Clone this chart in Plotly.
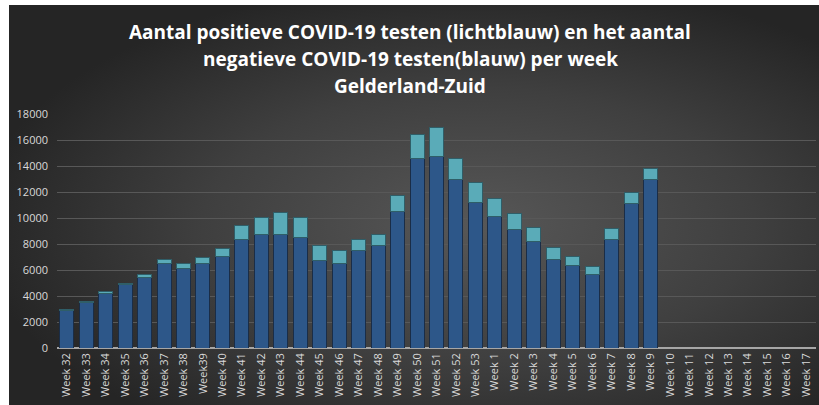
import base64
import plotly.graph_objects as go

weeks = ["Week 32", "Week 33", "Week 34", "Week 35", "Week 36", "Week 37", "Week 38", "Week39",
         "Week 40", "Week 41", "Week 42", "Week 43", "Week 44", "Week 45", "Week 46", "Week 47",
         "Week 48", "Week 49", "Week 50", "Week 51", "Week 52", "Week 53", "Week 1", "Week 2",
         "Week 3", "Week 4", "Week 5", "Week 6", "Week 7", "Week 8", "Week 9", "Week 10",
         "Week 11", "Week 12", "Week 13", "Week 14", "Week 15", "Week 16", "Week 17"]

negatief = [2900, 3480, 4230, 4860, 5450, 6530, 6140, 6480,
            7040, 8320, 8700, 8700, 8530, 6730, 6530, 7500,
            7860, 10500, 14600, 14720, 12930, 11210, 10110, 9140,
            8190, 6830, 6350, 5630, 8370, 11080, 12980, None,
            None, None, None, None, None, None, None]

positief = [50, 60, 120, 130, 180, 300, 360, 490,
            590, 1100, 1360, 1720, 1510, 1130, 950, 870,
            900, 1200, 1840, 2230, 1660, 1510, 1360, 1180,
            1100, 920, 690, 640, 850, 900, 850, None,
            None, None, None, None, None, None, None]

y_ticks = [0, 2000, 4000, 6000, 8000, 10000, 12000, 14000, 16000, 18000]

title_lines = ["Aantal positieve COVID-19 testen (lichtblauw) en het aantal",
               "negatieve COVID-19 testen(blauw) per week",
               "Gelderland-Zuid"]

W, H = 819, 405
L, R, T, B = 57, 3, 114, 57
pw, ph = W - L - R, H - T - B

svg = """<svg xmlns='http://www.w3.org/2000/svg' width='810' height='400' viewBox='0 0 810 400' preserveAspectRatio='none'>
<defs><radialGradient id='g' cx='0.58' cy='0.55' r='0.62'>
<stop offset='0' stop-color='#575757'/><stop offset='0.55' stop-color='#3f3f3f'/><stop offset='1' stop-color='#252525'/>
</radialGradient></defs><rect x='0' y='0' width='810' height='400' fill='url(#g)'/></svg>"""
src = "data:image/svg+xml;base64," + base64.b64encode(svg.encode()).decode()

fig = go.Figure()
fig.add_trace(go.Bar(x=weeks, y=negatief, name="negatief",
                     marker=dict(color="#2d5789", line=dict(color="#1a2d47", width=1))))
fig.add_trace(go.Bar(x=weeks, y=positief, name="positief",
                     marker=dict(color="#5aabb8", line=dict(color="#2f5e68", width=1))))

ann = []
for i, (line, yy) in enumerate(zip(title_lines, [32, 59, 86])):
    ann.append(dict(text="<b>" + line + "</b>", xref="paper", yref="paper",
                    x=(410 - L) / pw, y=1 + (T - yy) / ph, xanchor="center", yanchor="middle",
                    showarrow=False, font=dict(family="Open Sans", size=19, color="#ffffff")))

fig.update_layout(
    width=W, height=H,
    margin=dict(l=L, r=R, t=T, b=B, pad=0, autoexpand=False),
    paper_bgcolor="#ffffff", plot_bgcolor="rgba(0,0,0,0)",
    barmode="stack", bargap=0.28, showlegend=False,
    annotations=ann,
    images=[dict(source=src, xref="paper", yref="paper",
                 x=(9 - L) / pw, y=1 + (T - 5) / ph,
                 sizex=(W - 9) / pw, sizey=(H - 5) / ph,
                 xanchor="left", yanchor="top", sizing="stretch", layer="below")],
    xaxis=dict(tickangle=-90, tickfont=dict(family="Open Sans", size=11, color="#d9d9d9"),
               showline=False, showgrid=False, ticks="", ticklabelstandoff=2, automargin=False),
    yaxis=dict(range=[0, 18000], tickvals=y_ticks, ticktext=[str(v) for v in y_ticks],
               showgrid=True, gridcolor="#585858", gridwidth=1,
               zeroline=True, zerolinecolor="#a6a6a6", zerolinewidth=2,
               tickfont=dict(family="Open Sans", size=11, color="#d9d9d9"),
               ticks="", ticklabelstandoff=8, automargin=False),
    font=dict(family="Open Sans"),
)
fig.write_html("out.html", config={"displayModeBar": False},
               post_script="document.body.style.margin='0';document.body.style.overflow='hidden';")
